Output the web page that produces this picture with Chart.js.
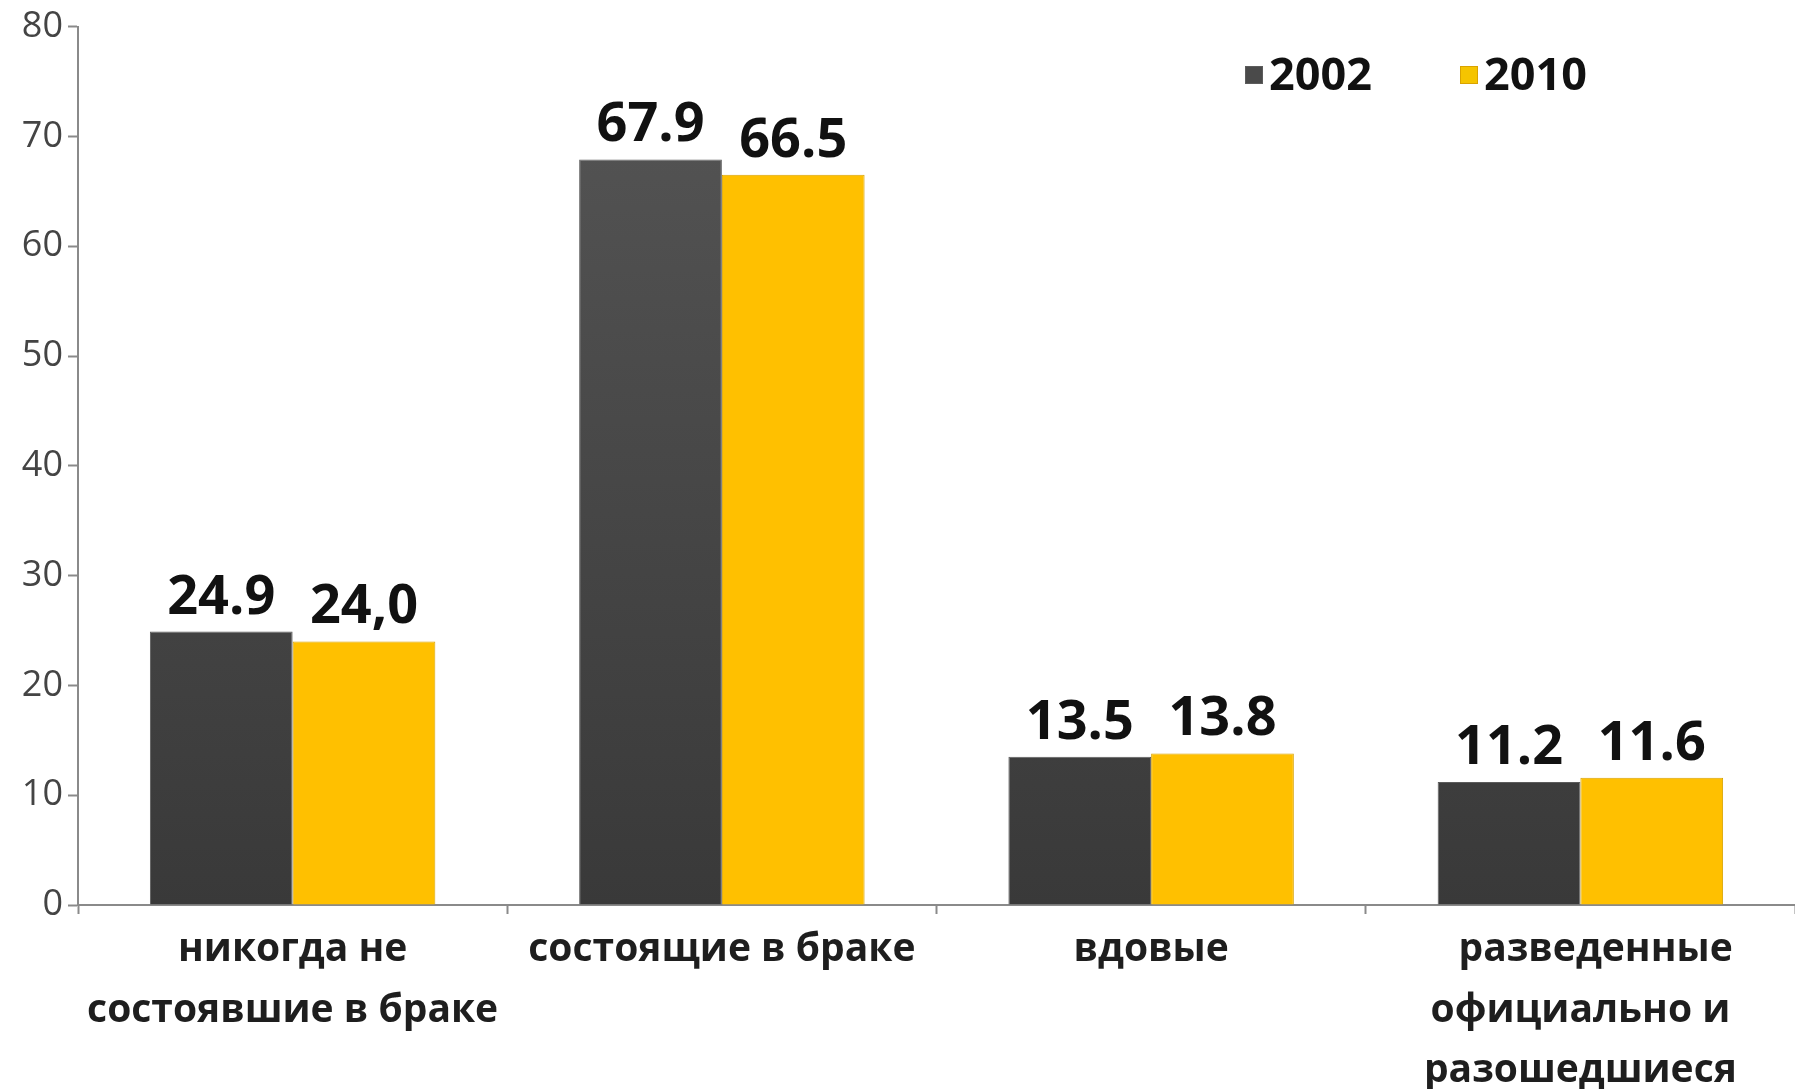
<!doctype html>
<html lang="ru">
<head>
  <meta charset="utf-8" />
  <title>Семейное положение 2002 / 2010</title>
  <script src="https://cdn.jsdelivr.net/npm/chart.js"></script>
  <style>
    html, body { margin: 0; padding: 0; background: #fff; }
    canvas { display: block; }
  </style>
</head>
<body>
  <canvas id="maritalChart" width="1795" height="1089"></canvas>
  <script>
    const categories = [
      ['никогда не', 'состоявшие в браке'],
      ['состоящие в браке'],
      ['вдовые'],
      ['\u00a0\u00a0\u00a0разведенные', 'официально и', 'разошедшиеся'],
    ];
    const years = ['2002', '2010'];
    const values2002 = [24.9, 67.9, 13.5, 11.2];
    const values2010 = [24.0, 66.5, 13.8, 11.6];
    const valueLabels2002 = ['24.9', '67.9', '13.5', '11.2'];
    const valueLabels2010 = ['24,0', '66.5', '13.8', '11.6'];
    const yMin = 0;
    const yMax = 80;
    const yStep = 10;

    const fontFamily = "'Open Sans', 'Noto Sans', sans-serif";

    function darkFill(context) {
      const area = context.chart.chartArea;
      if (!area) return '#444444';
      const gradient = context.chart.ctx.createLinearGradient(0, area.top, 0, area.bottom);
      gradient.addColorStop(0, '#565656');
      gradient.addColorStop(1, '#393939');
      return gradient;
    }

    // value labels above every bar
    const barValueLabels = {
      id: 'barValueLabels',
      afterDatasetsDraw(chart) {
        const ctx = chart.ctx;
        ctx.save();
        ctx.fillStyle = '#111111';
        ctx.font = 'bold 54px ' + fontFamily;
        ctx.textAlign = 'center';
        ctx.textBaseline = 'alphabetic';
        chart.data.datasets.forEach((dataset, datasetIndex) => {
          const meta = chart.getDatasetMeta(datasetIndex);
          meta.data.forEach((bar, index) => {
            ctx.fillText(dataset.valueLabels[index], bar.x, bar.y - 18);
          });
        });
        ctx.restore();
      },
    };

    // legend drawn inside the plot, top right
    const insideLegend = {
      id: 'insideLegend',
      afterDraw(chart) {
        const ctx = chart.ctx;
        const startX = [1245, 1460];
        const centerY = 75;
        ctx.save();
        ctx.font = 'bold 45px ' + fontFamily;
        ctx.textBaseline = 'middle';
        ctx.textAlign = 'left';
        chart.data.datasets.forEach((dataset, index) => {
          const x = startX[index];
          ctx.fillStyle = dataset.legendColor;
          ctx.strokeStyle = dataset.borderColor;
          ctx.lineWidth = 1;
          ctx.fillRect(x, centerY - 9, 18, 18);
          ctx.strokeRect(x + 0.5, centerY - 8.5, 17, 17);
          ctx.fillStyle = '#111111';
          ctx.fillText(dataset.label, x + 24, centerY + 2);
        });
        ctx.restore();
      },
    };

    new Chart(document.getElementById('maritalChart'), {
      type: 'bar',
      plugins: [barValueLabels, insideLegend],
      data: {
        labels: categories,
        datasets: [
          {
            label: years[0],
            data: values2002,
            valueLabels: valueLabels2002,
            backgroundColor: darkFill,
            legendColor: '#4a4a4a',
            borderColor: '#5c5c5c',
            borderWidth: 1,
          },
          {
            label: years[1],
            data: values2010,
            valueLabels: valueLabels2010,
            backgroundColor: '#ffc000',
            legendColor: '#f5c400',
            borderColor: '#d9a300',
            borderWidth: 1,
          },
        ],
      },
      options: {
        responsive: false,
        devicePixelRatio: 1,
        animation: false,
        layout: { padding: { top: 25, right: 0, bottom: 0, left: 0 } },
        categoryPercentage: 0.665,
        barPercentage: 1,
        plugins: {
          legend: { display: false },
          tooltip: { enabled: false },
        },
        scales: {
          x: {
            afterFit(scale) { scale.height = 184; },
            grid: {
              offset: true,
              drawOnChartArea: false,
              drawTicks: true,
              tickLength: 9,
              tickWidth: 2,
              tickColor: '#8a8a8a',
            },
            border: { display: true, color: '#8a8a8a', width: 2 },
            ticks: {
              color: '#1e1e1e',
              padding: 6,
              maxRotation: 0,
              autoSkip: false,
              font: { family: fontFamily, size: 39, weight: 'bold', lineHeight: 1.55 },
            },
          },
          y: {
            min: yMin,
            max: yMax,
            afterFit(scale) { scale.width = 78; },
            grid: {
              drawOnChartArea: false,
              drawTicks: true,
              tickLength: 10,
              tickWidth: 2,
              tickColor: '#8a8a8a',
            },
            border: { display: true, color: '#8a8a8a', width: 2 },
            ticks: {
              stepSize: yStep,
              color: '#444444',
              padding: 5,
              font: { family: fontFamily, size: 36, weight: 'normal' },
            },
          },
        },
      },
    });
  </script>
</body>
</html>
